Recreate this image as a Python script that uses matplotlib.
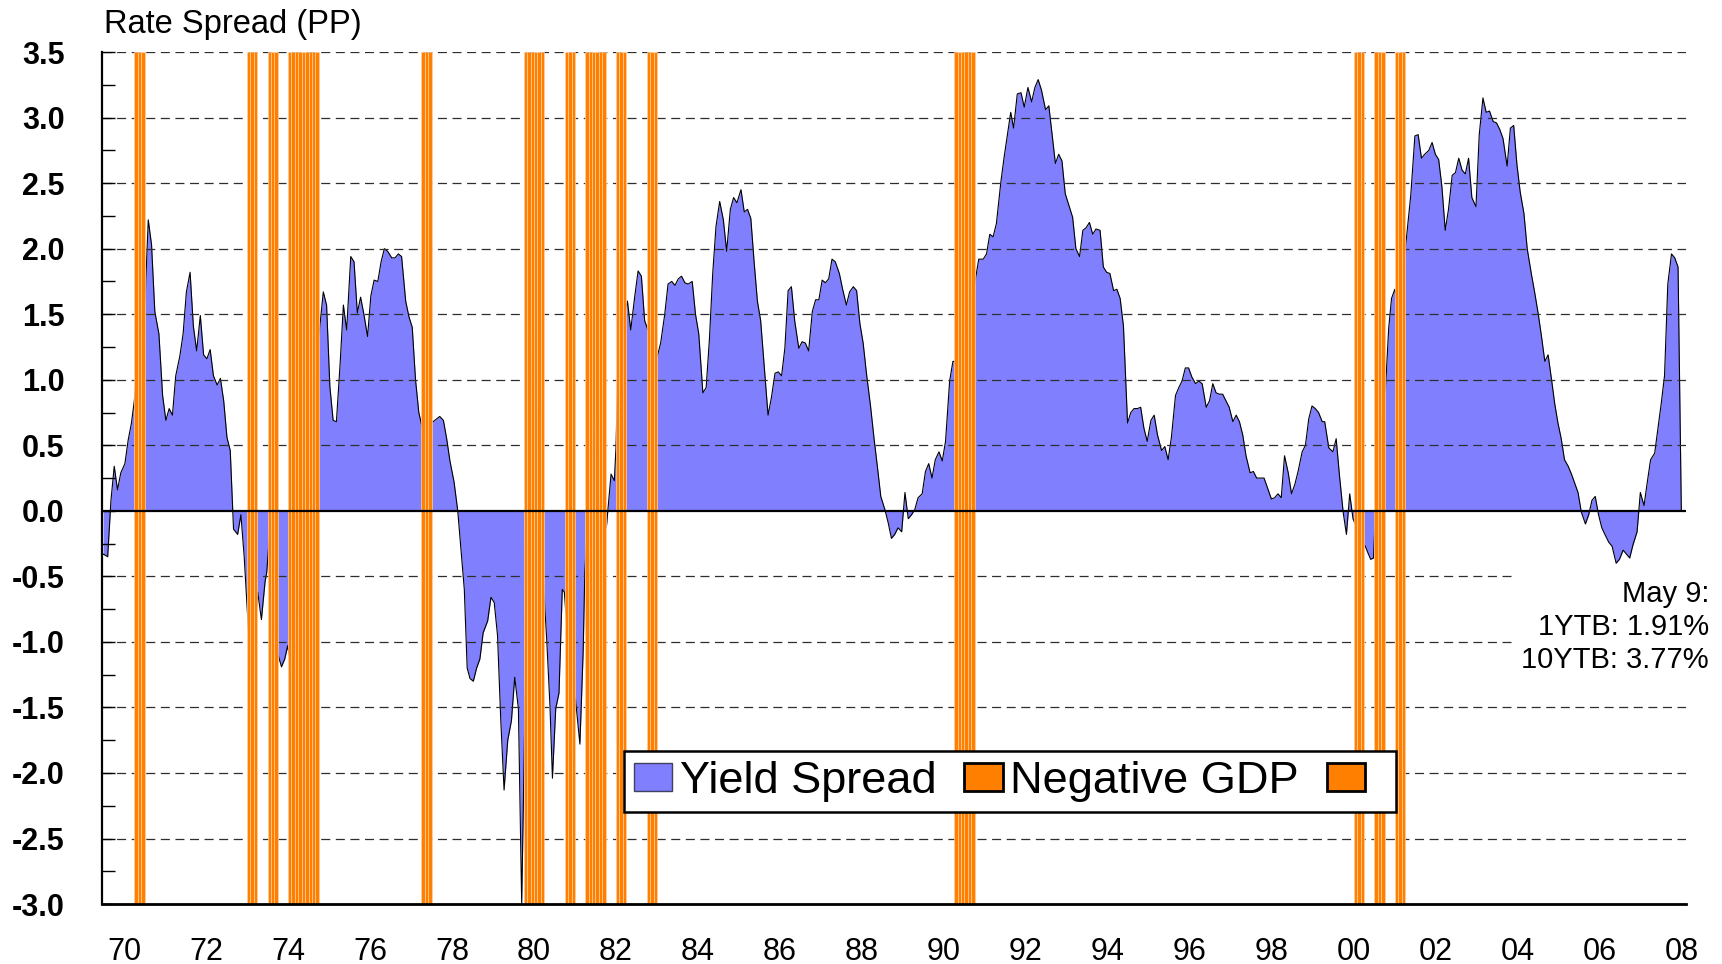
import matplotlib
matplotlib.use("Agg")
import matplotlib.pyplot as plt
from matplotlib.patches import Patch

plt.rcParams['font.family'] = ['Liberation Sans', 'DejaVu Sans']
plt.rcParams['lines.scale_dashes'] = False

# yield spread (10y - 1y), in decimal years
years = [
    1969.49, 1969.60, 1969.68, 1969.76, 1969.84, 1969.92, 1970.02, 1970.10, 1970.18, 1970.25,
    1970.39, 1970.51, 1970.59, 1970.67, 1970.75, 1970.85, 1970.94, 1971.02, 1971.10, 1971.18,
    1971.26, 1971.36, 1971.44, 1971.52, 1971.61, 1971.69, 1971.77, 1971.86, 1971.94, 1972.02,
    1972.10, 1972.18, 1972.27, 1972.35, 1972.43, 1972.51, 1972.59, 1972.67, 1972.77, 1972.85,
    1972.93, 1973.11, 1973.26, 1973.35, 1973.44, 1973.48, 1973.58, 1973.66, 1973.75, 1973.84,
    1973.92, 1973.99, 1974.08, 1974.20, 1974.30, 1974.38, 1974.45, 1974.55, 1974.66, 1974.75,
    1974.86, 1974.94, 1975.02, 1975.10, 1975.18, 1975.27, 1975.35, 1975.43, 1975.53, 1975.61,
    1975.69, 1975.77, 1975.85, 1975.94, 1976.02, 1976.10, 1976.19, 1976.27, 1976.35, 1976.43,
    1976.53, 1976.61, 1976.69, 1976.77, 1976.87, 1976.95, 1977.03, 1977.11, 1977.19, 1977.30,
    1977.38, 1977.46, 1977.54, 1977.62, 1977.70, 1977.79, 1977.87, 1977.95, 1978.05, 1978.14,
    1978.22, 1978.30, 1978.37, 1978.44, 1978.52, 1978.60, 1978.68, 1978.76, 1978.87, 1978.95,
    1979.03, 1979.11, 1979.19, 1979.27, 1979.36, 1979.45, 1979.53, 1979.62, 1979.70, 1979.78,
    1979.90, 1979.98, 1980.08, 1980.20, 1980.31, 1980.39, 1980.45, 1980.53, 1980.61, 1980.69,
    1980.74, 1980.83, 1980.92, 1981.01, 1981.12, 1981.20, 1981.24, 1981.36, 1981.49, 1981.58,
    1981.66, 1981.77, 1981.88, 1981.96, 1982.00, 1982.09, 1982.18, 1982.28, 1982.36, 1982.46,
    1982.54, 1982.62, 1982.70, 1982.87, 1983.01, 1983.09, 1983.19, 1983.27, 1983.36, 1983.44,
    1983.52, 1983.60, 1983.68, 1983.76, 1983.86, 1983.94, 1984.02, 1984.12, 1984.20, 1984.28,
    1984.36, 1984.44, 1984.53, 1984.62, 1984.70, 1984.79, 1984.87, 1984.95, 1985.05, 1985.13,
    1985.21, 1985.29, 1985.37, 1985.45, 1985.53, 1985.62, 1985.71, 1985.79, 1985.88, 1985.96,
    1986.04, 1986.12, 1986.20, 1986.28, 1986.36, 1986.46, 1986.54, 1986.62, 1986.70, 1986.79,
    1986.87, 1986.95, 1987.03, 1987.11, 1987.19, 1987.27, 1987.35, 1987.45, 1987.53, 1987.62,
    1987.70, 1987.79, 1987.87, 1987.95, 1988.03, 1988.11, 1988.21, 1988.30, 1988.38, 1988.46,
    1988.56, 1988.64, 1988.72, 1988.80, 1988.88, 1988.97, 1989.05, 1989.13, 1989.21, 1989.29,
    1989.37, 1989.47, 1989.55, 1989.63, 1989.71, 1989.79, 1989.88, 1989.96, 1990.04, 1990.14,
    1990.22, 1990.27, 1990.35, 1990.45, 1990.55, 1990.65, 1990.75, 1990.85, 1990.96, 1991.04,
    1991.12, 1991.20, 1991.28, 1991.39, 1991.47, 1991.55, 1991.63, 1991.70, 1991.79, 1991.88,
    1991.96, 1992.05, 1992.14, 1992.22, 1992.30, 1992.38, 1992.48, 1992.56, 1992.64, 1992.72,
    1992.80, 1992.88, 1992.96, 1993.05, 1993.14, 1993.22, 1993.31, 1993.39, 1993.47, 1993.55,
    1993.63, 1993.71, 1993.81, 1993.89, 1993.97, 1994.05, 1994.14, 1994.22, 1994.30, 1994.38,
    1994.48, 1994.56, 1994.64, 1994.72, 1994.80, 1994.88, 1994.96, 1995.05, 1995.13, 1995.21,
    1995.31, 1995.39, 1995.47, 1995.55, 1995.65, 1995.73, 1995.81, 1995.89, 1995.97, 1996.05,
    1996.14, 1996.22, 1996.30, 1996.40, 1996.48, 1996.56, 1996.64, 1996.72, 1996.80, 1996.88,
    1996.96, 1997.05, 1997.13, 1997.21, 1997.29, 1997.37, 1997.47, 1997.55, 1997.63, 1997.71,
    1997.81, 1997.89, 1997.99, 1998.07, 1998.15, 1998.23, 1998.31, 1998.40, 1998.48, 1998.56,
    1998.64, 1998.74, 1998.82, 1998.90, 1998.98, 1999.06, 1999.14, 1999.23, 1999.29, 1999.39,
    1999.49, 1999.57, 1999.65, 1999.74, 1999.82, 1999.90, 1999.98, 2000.10, 2000.20, 2000.28,
    2000.33, 2000.41, 2000.48, 2000.53, 2000.63, 2000.72, 2000.78, 2000.85, 2000.92, 2001.00,
    2001.08, 2001.18, 2001.28, 2001.39, 2001.49, 2001.57, 2001.65, 2001.73, 2001.83, 2001.91,
    2001.99, 2002.07, 2002.15, 2002.23, 2002.31, 2002.40, 2002.48, 2002.56, 2002.64, 2002.72,
    2002.80, 2002.88, 2002.98, 2003.06, 2003.15, 2003.23, 2003.31, 2003.40, 2003.48, 2003.56,
    2003.64, 2003.74, 2003.82, 2003.90, 2003.98, 2004.06, 2004.15, 2004.23, 2004.33, 2004.41,
    2004.49, 2004.57, 2004.66, 2004.74, 2004.82, 2004.90, 2004.98, 2005.06, 2005.14, 2005.23,
    2005.31, 2005.39, 2005.47, 2005.55, 2005.65, 2005.73, 2005.81, 2005.89, 2005.97, 2006.05,
    2006.14, 2006.22, 2006.30, 2006.40, 2006.48, 2006.57, 2006.65, 2006.73, 2006.81, 2006.91,
    2006.99, 2007.08, 2007.16, 2007.24, 2007.34, 2007.42, 2007.50, 2007.58, 2007.66, 2007.75,
    2007.83, 2007.91, 2007.99,
]
spread = [
    -0.33, -0.35, 0.08, 0.34, 0.16, 0.29, 0.36, 0.54, 0.67, 0.84,
    1.39, 1.60, 2.22, 2.03, 1.52, 1.35, 0.88, 0.69, 0.78, 0.73,
    1.03, 1.18, 1.35, 1.67, 1.82, 1.41, 1.22, 1.49, 1.19, 1.16,
    1.23, 1.03, 0.96, 1.01, 0.84, 0.56, 0.46, -0.14, -0.18, -0.03,
    -0.35, -1.32, -0.62, -0.83, -0.54, -0.47, -0.05, -0.90, -1.09, -1.19,
    -1.13, -1.03, -1.20, -1.00, -0.40, 0.08, -0.10, 0.20, 1.50, 1.33,
    1.67, 1.57, 0.95, 0.69, 0.68, 1.12, 1.57, 1.38, 1.94, 1.90,
    1.51, 1.63, 1.50, 1.33, 1.64, 1.76, 1.75, 1.90, 2.00, 1.98,
    1.93, 1.93, 1.96, 1.94, 1.60, 1.48, 1.40, 1.00, 0.75, 0.60,
    0.70, 0.68, 0.68, 0.70, 0.72, 0.69, 0.55, 0.38, 0.22, 0.00,
    -0.30, -0.60, -1.20, -1.28, -1.30, -1.20, -1.13, -0.93, -0.84, -0.66,
    -0.70, -0.95, -1.60, -2.13, -1.75, -1.60, -1.27, -1.51, -3.00, -1.50,
    0.60, 1.45, 0.70, -0.40, -0.98, -1.49, -2.04, -1.51, -1.39, -0.60,
    -0.62, -1.00, -1.90, -1.43, -1.78, -1.07, -0.47, 0.20, 0.67, 0.10,
    -0.20, -0.11, 0.28, 0.23, 0.48, 1.60, 1.45, 1.60, 1.38, 1.64,
    1.83, 1.79, 1.45, 1.30, 1.18, 1.28, 1.50, 1.73, 1.75, 1.72,
    1.77, 1.79, 1.74, 1.73, 1.75, 1.50, 1.35, 0.90, 0.94, 1.31,
    1.81, 2.17, 2.36, 2.22, 1.98, 2.30, 2.39, 2.35, 2.45, 2.28,
    2.30, 2.23, 1.90, 1.60, 1.45, 1.09, 0.73, 0.86, 1.05, 1.06,
    1.03, 1.24, 1.68, 1.71, 1.45, 1.24, 1.29, 1.28, 1.22, 1.52,
    1.61, 1.61, 1.76, 1.74, 1.77, 1.92, 1.90, 1.81, 1.69, 1.57,
    1.67, 1.71, 1.68, 1.43, 1.28, 1.05, 0.80, 0.54, 0.33, 0.11,
    0.01, -0.09, -0.21, -0.18, -0.13, -0.16, 0.14, -0.06, -0.03, 0.01,
    0.10, 0.13, 0.30, 0.36, 0.25, 0.39, 0.45, 0.38, 0.53, 0.99,
    1.14, 1.14, 1.05, 1.31, 1.52, 1.65, 1.73, 1.92, 1.92, 1.96,
    2.11, 2.09, 2.19, 2.51, 2.70, 2.87, 3.04, 2.92, 3.18, 3.19,
    3.08, 3.23, 3.12, 3.23, 3.29, 3.21, 3.06, 3.09, 2.87, 2.65,
    2.72, 2.67, 2.42, 2.33, 2.24, 2.00, 1.94, 2.14, 2.16, 2.20,
    2.11, 2.15, 2.14, 1.86, 1.82, 1.81, 1.68, 1.69, 1.62, 1.41,
    0.67, 0.75, 0.78, 0.78, 0.79, 0.63, 0.53, 0.69, 0.73, 0.58,
    0.46, 0.49, 0.39, 0.56, 0.88, 0.94, 0.99, 1.09, 1.09, 1.02,
    0.97, 0.99, 0.97, 0.79, 0.84, 0.97, 0.90, 0.89, 0.89, 0.84,
    0.79, 0.68, 0.73, 0.68, 0.58, 0.42, 0.29, 0.30, 0.25, 0.25,
    0.25, 0.18, 0.09, 0.10, 0.13, 0.10, 0.42, 0.29, 0.13, 0.20,
    0.30, 0.45, 0.50, 0.70, 0.80, 0.78, 0.75, 0.68, 0.68, 0.48,
    0.45, 0.55, 0.27, -0.01, -0.18, 0.13, -0.06, -0.15, -0.25, -0.27,
    -0.31, -0.37, -0.36, 0.00, 0.54, 0.80, 0.97, 1.39, 1.62, 1.69,
    1.57, 1.80, 2.07, 2.41, 2.86, 2.87, 2.69, 2.72, 2.75, 2.81,
    2.72, 2.68, 2.47, 2.14, 2.30, 2.56, 2.58, 2.69, 2.60, 2.57,
    2.69, 2.39, 2.32, 2.87, 3.15, 3.04, 3.05, 2.97, 2.96, 2.91,
    2.84, 2.63, 2.92, 2.94, 2.64, 2.43, 2.27, 2.00, 1.81, 1.67,
    1.52, 1.35, 1.14, 1.19, 1.01, 0.82, 0.67, 0.55, 0.39, 0.34,
    0.28, 0.21, 0.14, -0.01, -0.10, -0.03, 0.08, 0.11, -0.03, -0.13,
    -0.19, -0.24, -0.27, -0.40, -0.37, -0.30, -0.33, -0.36, -0.26, -0.16,
    0.14, 0.04, 0.22, 0.39, 0.44, 0.63, 0.82, 1.03, 1.73, 1.96,
    1.93, 1.86, 0.00,
]

# quarters of negative GDP growth (start of quarter), drawn as monthly bars
neg_gdp_quarters = [1970.25, 1973.0, 1973.5, 1974.0, 1974.25, 1974.5, 1977.25,
                    1979.75, 1980.0, 1980.75, 1981.25, 1981.5, 1982.0, 1982.75,
                    1990.25, 1990.5, 2000.0, 2000.5, 2001.0]

y_ticks = [-3.0, -2.5, -2.0, -1.5, -1.0, -0.5, 0.0, 0.5, 1.0, 1.5, 2.0, 2.5, 3.0, 3.5]
x_ticks = list(range(1970, 2009, 2))
x_labels = ['%02d' % (y % 100) for y in x_ticks]

note = "May 9:\n1YTB: 1.91%\n10YTB: 3.77%"

blue = '#8080FF'
orange = '#FF8000'

fig = plt.figure(figsize=(17.22, 9.64), dpi=100)
ax = fig.add_axes([0.0592, 0.0622, 0.9198, 0.8838])

ax.fill_between(years, spread, 0, color=blue, linewidth=0, zorder=1)
ax.plot(years, spread, color='black', linewidth=0.8, zorder=1.2)

for y in y_ticks:
    if y == 0:
        ax.axhline(y, color='black', linewidth=1.6, zorder=4)
    else:
        ax.axhline(y, color='#2e2e2e', linewidth=0.9, dashes=(6.5, 4.0), zorder=1.5)

for q in neg_gdp_quarters:
    for m in range(3):
        x0 = q + m / 12.0
        ax.axvspan(x0, x0 + 1 / 12.0, color=orange, ec='#FFD0A0', lw=0.5, zorder=2)

ax.set_xlim(1969.46, 2008.1)
ax.set_ylim(-3.0, 3.5)

ax.set_yticks(y_ticks)
ax.set_yticklabels(['%.1f' % v for v in y_ticks], fontsize=22, fontweight='bold')
ax.set_yticks([v + 0.25 for v in y_ticks[:-1]], minor=True)
ax.tick_params(axis='y', which='both', direction='in', length=9, width=1, pad=27, color='black')

ax.set_xticks(x_ticks)
ax.set_xticklabels(x_labels, fontsize=22)
ax.tick_params(axis='x', length=0, pad=24)

for s in ['top', 'right']:
    ax.spines[s].set_visible(False)
ax.spines['left'].set_linewidth(1.6)
ax.spines['bottom'].set_linewidth(2.0)
ax.spines['left'].set_zorder(5)
ax.spines['bottom'].set_zorder(5)

fig.text(0.0602, 0.9658, "Rate Spread (PP)", fontsize=23.5, va='baseline', ha='left')

fig.text(0.9924, 0.398, note, fontsize=21, ha='right', va='top', linespacing=1.22,
         bbox=dict(facecolor='white', edgecolor='none', pad=6), zorder=6)

handles = [Patch(facecolor=blue, edgecolor='#404060', linewidth=1),
           Patch(facecolor=orange, edgecolor='black', linewidth=2),
           Patch(facecolor=orange, edgecolor='black', linewidth=2)]
leg = ax.legend(handles, ['Yield Spread', 'Negative GDP', ' '], ncol=3,
                loc='lower left', bbox_to_anchor=(0.3295, 0.108), fontsize=32.5,
                frameon=True, fancybox=False, framealpha=1, edgecolor='black',
                handlelength=0.85, handleheight=0.56, handletextpad=0.17,
                columnspacing=0.62, borderpad=0.22, borderaxespad=0)
leg.get_frame().set_linewidth(1.8)
leg.set_zorder(7)

fig.savefig('out.png', dpi=100)
